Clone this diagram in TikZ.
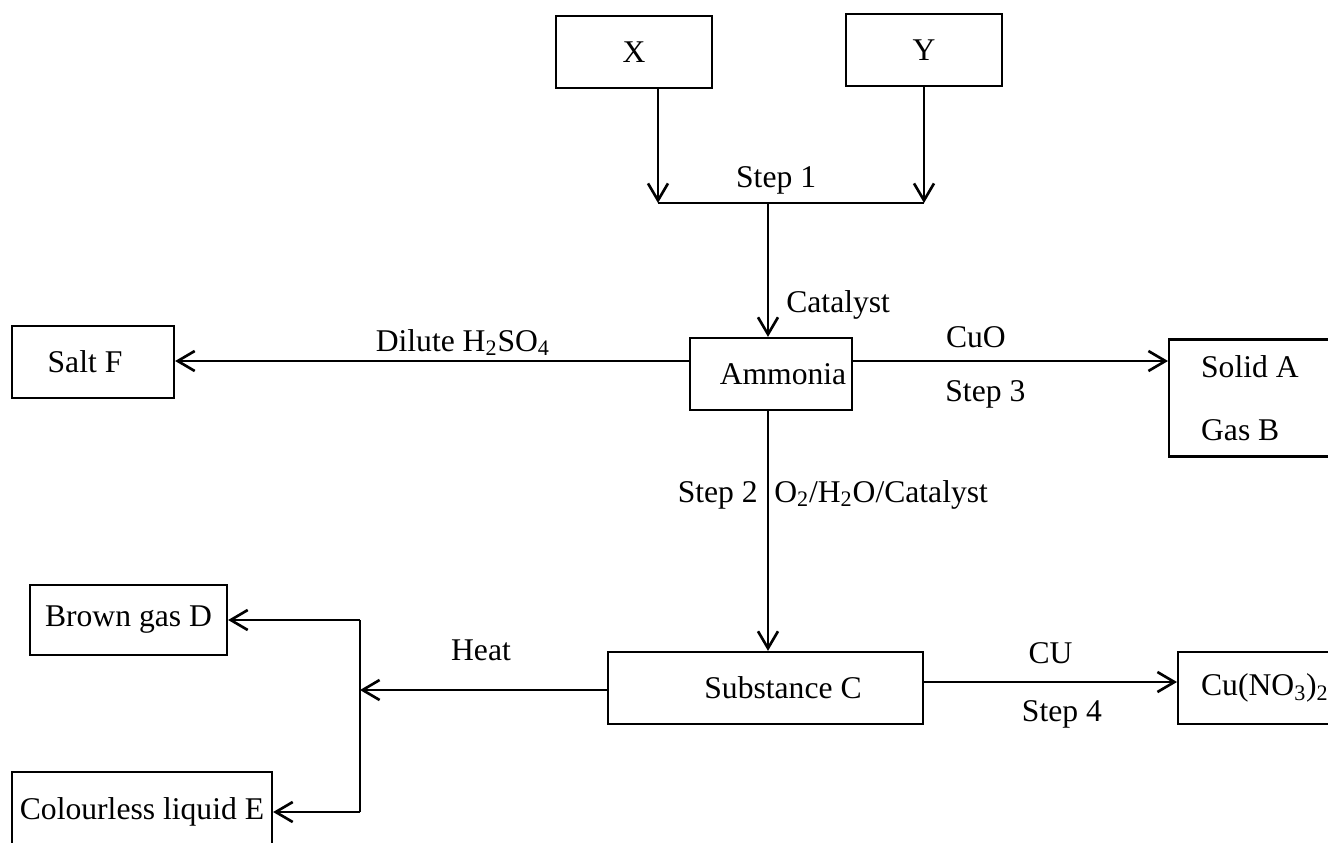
\documentclass[tikz,border=0pt]{standalone}
\usepackage{fontspec}
\setmainfont{Liberation Serif}
\usetikzlibrary{arrows.meta}
\begin{document}
\begin{tikzpicture}[x=0.02cm,y=-0.02cm,every node/.style={font=\fontsize{18}{22}\selectfont},
box/.style={draw,line width=1.3pt,inner sep=0pt,minimum height=1.44cm},
lbl/.style={inner sep=0pt,anchor=base},
conn/.style={line width=1.5pt},
arr/.style={line width=1.5pt,-{Straight Barb[length=0.34cm,width=0.4cm]}}]
\useasboundingbox (0,0) rectangle (1328,842);
\node[box,minimum width=3.12cm] (X) at (634,52) {X};
\node[box,minimum width=3.12cm] (Y) at (924,50) {Y};
\node[box,minimum width=3.24cm] (ammonia) at (771,374) {\hspace*{0.48cm}Ammonia};
\node[box,minimum width=3.24cm] (saltF) at (93,362) {Salt F\hspace*{0.32cm}};
\node[box,anchor=west,text width=3.36cm,inner xsep=0.64cm,align=flush left,minimum height=2.34cm,font=\fontsize{18}{36}\selectfont] (solidAB) at (1168,398) {Solid A\\Gas B};
\node[box,minimum width=6.3cm] (subC) at (765.5,688) {\hspace*{0.7cm}Substance C};
\node[box,anchor=west,text width=3.54cm,inner xsep=0.46cm,align=flush left] (cuno) at (1177,688) {Cu(NO\textsubscript{3})\textsubscript{2}};
\node[box,minimum width=3.94cm,minimum height=1.4cm] (brownD) at (128.5,620) {Brown gas D};
\node[box,minimum width=5.2cm,minimum height=1.6cm] (colE) at (142,812) {Colourless liquid E};
\coordinate (xj) at (658,203);
\coordinate (yj) at (924,203);
\coordinate (sj) at (768,203);
\coordinate (lvl) at (0,361);
\coordinate (cl) at (0,682);
\coordinate (hj) at (360,690);
\coordinate (dj) at (360,620);
\coordinate (ej) at (360,812);
\draw[arr] (X.south -| xj) -- (xj);
\draw[arr] (Y.south) -- (yj);
\draw[conn] (xj) -- node[lbl,pos=0.444,yshift=0.31cm] {Step 1} (yj);
\draw[arr] (sj) -- node[lbl,pos=0.815,anchor=base west,xshift=0.34cm] {Catalyst} (sj |- ammonia.north);
\draw[arr] (ammonia.west |- lvl) -- node[lbl,pos=0.44,yshift=0.2cm] {Dilute H\textsubscript{2}SO\textsubscript{4}} (saltF.east |- lvl);
\draw[arr] (ammonia.east |- lvl) -- node[lbl,pos=0.39,yshift=0.28cm] {CuO} node[lbl,pos=0.42,yshift=-0.82cm] {Step 3} (solidAB.west |- lvl);
\draw[arr] (sj |- ammonia.south) -- node[lbl,pos=0.38,anchor=base east,xshift=-0.18cm] {Step 2} node[lbl,pos=0.38,anchor=base west,xshift=0.1cm] {O\textsubscript{2}/H\textsubscript{2}O/Catalyst} (sj |- subC.north);
\draw[arr] (subC.east |- cl) -- node[lbl,pos=0.5,yshift=0.38cm] {CU} node[lbl,pos=0.545,yshift=-0.78cm] {Step 4} (cuno.west |- cl);
\draw[arr] (subC.west |- hj) -- node[lbl,pos=0.51,yshift=0.6cm] {Heat} (hj);
\draw[conn] (dj) -- (ej);
\draw[arr] (dj) -- (brownD.east);
\draw[arr] (ej) -- (colE.east);
\end{tikzpicture}
\end{document}
